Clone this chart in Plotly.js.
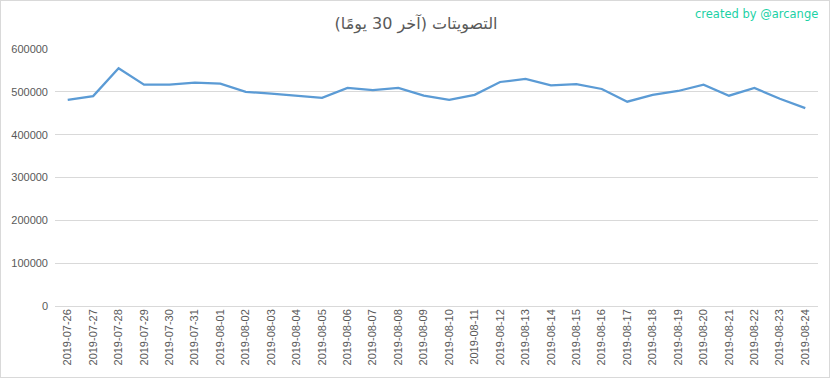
<!DOCTYPE html>
<html>
<head>
<meta charset="utf-8">
<script src="https://cdn.plot.ly/plotly-3.0.1.min.js"></script>
<style>
html,body{margin:0;padding:0;background:#fff;}
#wrap{position:absolute;left:0;top:0;width:828px;height:376px;border:1px solid #d9d9d9;}
#chart{position:absolute;left:-1px;top:-1px;width:832px;height:379px;}
</style>
</head>
<body>
<div id="wrap"><div id="chart"></div></div>
<script>
const dates = ["2019-07-26","2019-07-27","2019-07-28","2019-07-29","2019-07-30","2019-07-31","2019-08-01","2019-08-02","2019-08-03","2019-08-04","2019-08-05","2019-08-06","2019-08-07","2019-08-08","2019-08-09","2019-08-10","2019-08-11","2019-08-12","2019-08-13","2019-08-14","2019-08-15","2019-08-16","2019-08-17","2019-08-18","2019-08-19","2019-08-20","2019-08-21","2019-08-22","2019-08-23","2019-08-24"];
const votes = [481000,490000,555000,516700,516700,521400,519000,500000,496000,491000,486000,509000,504000,509000,491000,481000,493000,523000,530000,515000,518000,506600,477000,493000,502000,516700,491000,509000,484000,462000];
const yTicks = [0,100000,200000,300000,400000,500000,600000];
const titleText = "التصويتات (آخر 30 يومًا)";
const creditText = "created by @arcange";

const trace = {
  x: dates, y: votes, type: "scatter", mode: "lines",
  line: {color: "#5b9bd5", width: 2.25},
  hoverinfo: "x+y"
};
const layout = {
  width: 832, height: 379,
  margin: {l: 55, r: 14, t: 49, b: 73},
  paper_bgcolor: "rgba(0,0,0,0)", plot_bgcolor: "#fff",
  showlegend: false,
  font: {family: "Liberation Sans, Arial, sans-serif", color: "#595959"},
  title: {text: titleText, x: 0.5, xanchor: "center", y: 0.938, yanchor: "middle",
          font: {size: 16, color: "#595959", family: "DejaVu Sans, Noto Sans, sans-serif"}},
  xaxis: {type: "category", range: [-0.5, dates.length - 0.5], tickangle: -90,
          showgrid: false, zeroline: false, showline: false, ticks: "",
          tickfont: {size: 11, color: "#595959"}, fixedrange: true},
  yaxis: {range: [0, 600000], tickvals: yTicks, ticktext: yTicks.map(String),
          showgrid: true, gridcolor: "#d9d9d9", gridwidth: 1, zeroline: true,
          zerolinecolor: "#d9d9d9", zerolinewidth: 1, showline: false, ticks: "",
          ticklabelstandoff: 6,
          tickfont: {size: 11, color: "#595959"}, fixedrange: true},
  annotations: [{text: creditText, xref: "paper", yref: "paper", x: 1.003, y: 1.136,
                 xanchor: "right", yanchor: "middle", showarrow: false,
                 font: {size: 11.5, color: "#1bd1a5", family: "DejaVu Sans, sans-serif"}}]
};
Plotly.newPlot("chart", [trace], layout, {displayModeBar: false, staticPlot: true});
</script>
</body>
</html>
